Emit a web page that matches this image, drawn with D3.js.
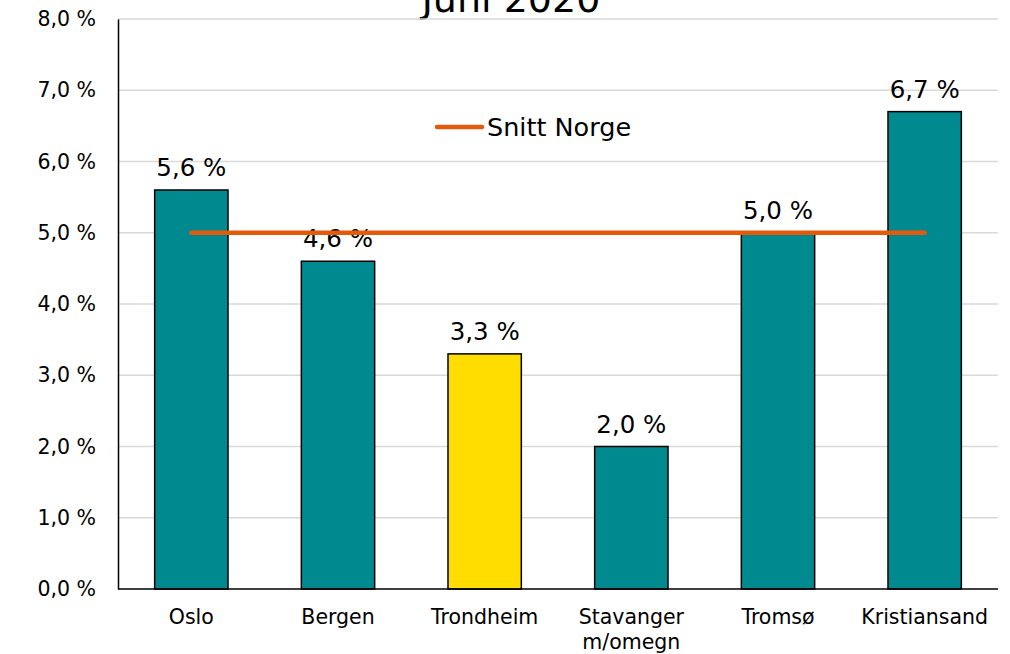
<!DOCTYPE html>
<html>
<head>
<meta charset="utf-8">
<script src="https://cdn.jsdelivr.net/npm/d3@7"></script>
<style>
  body { margin: 0; background: #fff; }
  svg { display: block; font-family: "DejaVu Sans", Verdana, sans-serif; }
</style>
</head>
<body>
<div class="chart"></div>
<script>
// data
var cities = ["Oslo", "Bergen", "Trondheim", "Stavanger\nm/omegn", "Tromsø", "Kristiansand"];
var values = [5.6, 4.6, 3.3, 2.0, 5.0, 6.7];
var snittNorge = 5.0;
var yTicks = [0, 1, 2, 3, 4, 5, 6, 7, 8];
var highlight = "Trondheim";

var width = 1010, height = 654;
var margin = {top: 19, right: 12, bottom: 65, left: 118};
var innerW = width - margin.left - margin.right;
var innerH = height - margin.top - margin.bottom;

var fmt = function(v) { return d3.format(".1f")(v).replace(".", ",") + " %"; };

var svg = d3.select(".chart").append("svg")
    .attr("width", width)
    .attr("height", height);

// title (cut off at top like the original)
svg.append("text")
    .attr("x", 511)
    .attr("y", 12)
    .attr("text-anchor", "middle")
    .style("font-size", "38px")
    .attr("fill", "#000")
    .text("Juni 2020");

var g = svg.append("g")
    .attr("transform", "translate(" + margin.left + "," + margin.top + ")");

var x = d3.scaleBand()
    .domain(cities)
    .range([0, innerW])
    .paddingInner(0.5)
    .paddingOuter(0.25);

var y = d3.scaleLinear()
    .domain([0, 8])
    .range([innerH, 0]);

// gridlines
g.append("g")
  .selectAll("line")
  .data(yTicks.filter(function(d) { return d > 0; }))
  .enter().append("line")
    .attr("x1", 0)
    .attr("x2", innerW)
    .attr("y1", function(d) { return y(d); })
    .attr("y2", function(d) { return y(d); })
    .attr("stroke", "#d9d9d9")
    .attr("stroke-width", 1.5);

// y axis
var yAxis = g.append("g")
    .call(d3.axisLeft(y).tickValues(yTicks).tickSize(0).tickPadding(22).tickFormat(fmt));
yAxis.select(".domain").attr("stroke", "#000").attr("stroke-width", 1.5);
yAxis.selectAll("text")
    .style("font-size", "20.5px")
    .attr("fill", "#000")
    .attr("font-family", "DejaVu Sans, Verdana, sans-serif");

// bars
g.selectAll("rect.bar")
  .data(values)
  .enter().append("rect")
    .attr("class", "bar")
    .attr("x", function(d, i) { return x(cities[i]); })
    .attr("width", x.bandwidth())
    .attr("y", function(d) { return y(d); })
    .attr("height", function(d) { return innerH - y(d); })
    .attr("fill", function(d, i) { return cities[i] === highlight ? "#ffdd00" : "#008a8f"; })
    .attr("stroke", "#000")
    .attr("stroke-width", 1.5);

// x axis baseline
g.append("line")
    .attr("x1", 0)
    .attr("x2", innerW)
    .attr("y1", innerH)
    .attr("y2", innerH)
    .attr("stroke", "#000")
    .attr("stroke-width", 1.5);

// category labels
var cat = g.selectAll("text.cat")
  .data(cities)
  .enter().append("text")
    .attr("class", "cat")
    .attr("text-anchor", "middle")
    .attr("y", innerH + 35)
    .style("font-size", "20.5px")
    .attr("fill", "#000");
cat.selectAll("tspan")
  .data(function(d) { return d.split("\n").map(function(s) { return {s: s, c: d}; }); })
  .enter().append("tspan")
    .attr("x", function(d) { return x(d.c) + x.bandwidth() / 2; })
    .attr("dy", function(d, i) { return i === 0 ? 0 : 25; })
    .text(function(d) { return d.s; });

// value labels
g.selectAll("text.val")
  .data(values)
  .enter().append("text")
    .attr("class", "val")
    .attr("text-anchor", "middle")
    .attr("x", function(d, i) { return x(cities[i]) + x.bandwidth() / 2; })
    .attr("y", function(d) { return y(d) - 14; })
    .style("font-size", "24.5px")
    .attr("fill", "#000")
    .text(fmt);

// average line
g.append("line")
    .attr("x1", x(cities[0]) + x.bandwidth() / 2)
    .attr("x2", x(cities[cities.length - 1]) + x.bandwidth() / 2)
    .attr("y1", y(snittNorge))
    .attr("y2", y(snittNorge))
    .attr("stroke", "#e35a0a")
    .attr("stroke-width", 4.5)
    .attr("stroke-linecap", "round");

// legend
var legend = svg.append("g").attr("transform", "translate(437,127)");
legend.append("line")
    .attr("x1", 0).attr("x2", 45)
    .attr("stroke", "#e35a0a")
    .attr("stroke-width", 4.5)
    .attr("stroke-linecap", "round");
legend.append("text")
    .attr("x", 50)
    .attr("y", 9)
    .style("font-size", "25.5px")
    .attr("fill", "#000")
    .text("Snitt Norge");
</script>
</body>
</html>
